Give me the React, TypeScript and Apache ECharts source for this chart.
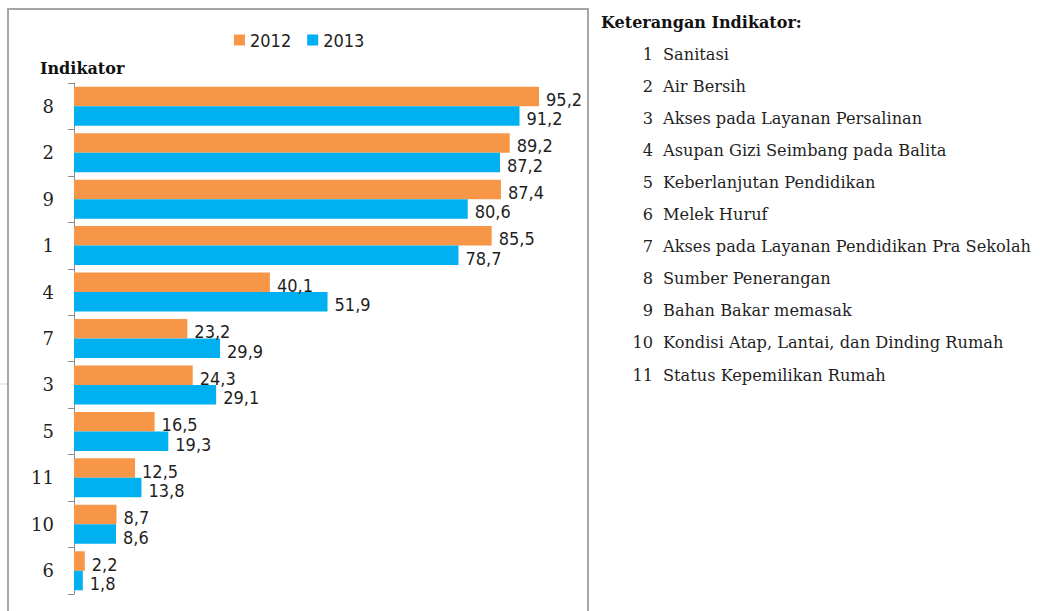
import React, { useEffect, useRef } from "react";
import * as echarts from "echarts";

const categories = ["8", "2", "9", "1", "4", "7", "3", "5", "11", "10", "6"];
const values2012 = [95.2, 89.2, 87.4, 85.5, 40.1, 23.2, 24.3, 16.5, 12.5, 8.7, 2.2];
const values2013 = [91.2, 87.2, 80.6, 78.7, 51.9, 29.9, 29.1, 19.3, 13.8, 8.6, 1.8];
const seriesNames = ["2012", "2013"];
const keteranganTitle = "Keterangan Indikator:";
const keteranganNumbers = ["1", "2", "3", "4", "5", "6", "7", "8", "9", "10", "11"];
const keteranganNames = [
  "Sanitasi",
  "Air Bersih",
  "Akses pada Layanan Persalinan",
  "Asupan Gizi Seimbang pada Balita",
  "Keberlanjutan Pendidikan",
  "Melek Huruf",
  "Akses pada Layanan Pendidikan Pra Sekolah",
  "Sumber Penerangan",
  "Bahan Bakar memasak",
  "Kondisi Atap, Lantai, dan Dinding Rumah",
  "Status Kepemilikan Rumah",
];

const SANS = "'DejaVu Sans Condensed', 'DejaVu Sans', sans-serif";
const SERIF = "'DejaVu Serif', serif";
const ORANGE = "#F79646";
const BLUE = "#00B0F0";
const TEXT = "#1f1f1f";

export default function App() {
  const ref = useRef<HTMLDivElement>(null);
  useEffect(() => {
    if (!ref.current) return;
    const chart = echarts.init(ref.current, undefined, { renderer: "svg" });
    const labelCfg = {
      show: true,
      position: "right",
      distance: 7,
      offset: [0, 3],
      fontFamily: SANS,
      fontSize: 18,
      color: TEXT,
      formatter: (p: any) => String(p.value).replace(".", ","),
    };
    const listGraphics: any[] = [];
    keteranganNumbers.forEach((n, i) => {
      const y = 54 + i * 32.1;
      listGraphics.push({
        type: "text",
        x: 653,
        y,
        style: { text: n, textAlign: "right", textVerticalAlign: "middle", fontFamily: SERIF, fontSize: 16.2, fill: TEXT },
      });
      listGraphics.push({
        type: "text",
        x: 663,
        y,
        style: { text: keteranganNames[i], textAlign: "left", textVerticalAlign: "middle", fontFamily: SERIF, fontSize: 16.2, fill: TEXT },
      });
    });
    chart.setOption({
      animation: false,
      backgroundColor: "#ffffff",
      legend: {
        left: 229,
        top: 26,
        itemWidth: 11,
        itemHeight: 11,
        itemGap: 16,
        icon: "rect",
        textStyle: { fontFamily: SANS, fontSize: 18, color: TEXT },
        data: seriesNames,
      },
      grid: { left: 74, top: 83, width: 488.5, height: 511, containLabel: false },
      xAxis: {
        type: "value",
        min: 0,
        max: 100,
        show: false,
      },
      yAxis: {
        type: "category",
        inverse: true,
        data: categories,
        axisLine: { show: true, lineStyle: { color: "#8c8c8c", width: 1 } },
        axisTick: { show: true, length: 6, lineStyle: { color: "#8c8c8c" } },
        axisLabel: { fontFamily: SERIF, fontSize: 18, color: TEXT, margin: 20 },
        splitLine: { show: false },
      },
      series: [
        {
          name: seriesNames[0],
          type: "bar",
          data: values2012,
          itemStyle: { color: ORANGE },
          barGap: "0%",
          barCategoryGap: "16%",
          label: labelCfg,
        },
        {
          name: seriesNames[1],
          type: "bar",
          data: values2013,
          itemStyle: { color: BLUE },
          barGap: "0%",
          barCategoryGap: "16%",
          label: labelCfg,
        },
      ],
      graphic: [
        {
          type: "rect",
          shape: { x: 8, y: 9, width: 580, height: 640 },
          style: { fill: "none", stroke: "#a6a6a6", lineWidth: 2 },
          silent: true,
        },
        {
          type: "line",
          shape: { x1: 0, y1: 384, x2: 7, y2: 384 },
          style: { stroke: "#c9d3e6", lineWidth: 1 },
          silent: true,
        },
        {
          type: "text",
          x: 40,
          y: 68,
          style: { text: "Indikator", textVerticalAlign: "middle", fontFamily: SERIF, fontSize: 16, fontWeight: "bold", fill: "#111" },
        },
        {
          type: "text",
          x: 601,
          y: 22,
          style: { text: keteranganTitle, textVerticalAlign: "middle", fontFamily: SERIF, fontSize: 16, fontWeight: "bold", fill: "#111" },
        },
        ...listGraphics,
      ],
    });
    return () => chart.dispose();
  }, []);
  return (
    <div
      ref={ref}
      style={{ position: "absolute", left: 0, top: 0, width: 1040, height: 611, background: "#fff" }}
    />
  );
}
